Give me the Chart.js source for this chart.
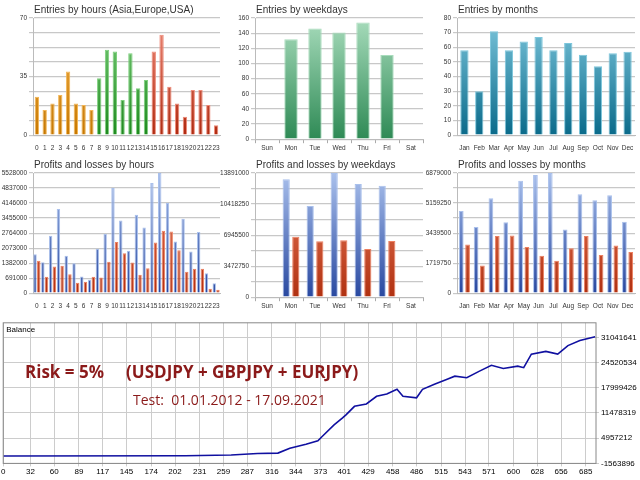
<!DOCTYPE html>
<html><head><meta charset="utf-8">
<script src="https://cdn.jsdelivr.net/npm/chart.js@4/dist/chart.umd.min.js"></script>
<style>
body{margin:0;background:#fff;width:640px;height:480px;position:relative;overflow:hidden;font-family:"Liberation Sans",Arial,sans-serif}
canvas{position:absolute}
.t{position:absolute;color:#8b1a1a;white-space:nowrap}
</style></head><body>
<canvas id="c1" style="left:0;top:0" width="225" height="155"></canvas>
<canvas id="c2" style="left:222px;top:0" width="205" height="155"></canvas>
<canvas id="c3" style="left:425px;top:0" width="215" height="155"></canvas>
<canvas id="c4" style="left:0;top:155px" width="225" height="160"></canvas>
<canvas id="c5" style="left:210px;top:155px" width="217" height="160"></canvas>
<canvas id="c6" style="left:420px;top:155px" width="220" height="160"></canvas>
<canvas id="c7" style="left:0;top:316px" width="640" height="164"></canvas>
<div class="t" style="left:25px;top:360px;font:bold 17px 'Open Sans',sans-serif;">Risk = 5%&nbsp;&nbsp;&nbsp;&nbsp;&nbsp;(USDJPY + GBPJPY + EURJPY)</div>
<div class="t" style="left:133px;top:390px;font:14px 'Open Sans',sans-serif;">Test:&nbsp; 01.01.2012 - 17.09.2021</div>
<script>
const hours=['0','1','2','3','4','5','6','7','8','9','10','11','12','13','14','15','16','17','18','19','20','21','22','23'];
const weekdays=['Sun','Mon','Tue','Wed','Thu','Fri','Sat'];
const months=['Jan','Feb','Mar','Apr','May','Jun','Jul','Aug','Sep','Oct','Nov','Dec'];
const entriesHours=[23,15,19,24,38,19,18,15,34,51,50,21,49,28,33,50,60,29,19,11,27,27,18,6];
const entriesWeekdays=[0,132,146,141,154,111,0];
const entriesMonths=[58,30,71,58,64,67,58,63,55,47,56,57];
const profitHours=[1797000,1428000,2641000,3870000,1720000,1382000,768000,614000,2042000,2718000,4837000,3347000,1950000,3608000,3025000,5067000,5528000,4146000,2380000,3424000,1919000,2810000,921000,460000];
const lossHours=[1490000,752000,1228000,1259000,875000,476000,522000,752000,722000,1443000,2349000,1843000,1413000,845000,1152000,2334000,2871000,2841000,1981000,983000,1121000,1121000,200000,154000];
const profitWeekdays=[0,13200000,10200000,13891000,12660000,12460000,0];
const lossWeekdays=[0,6750000,6250000,6370000,5400000,6290000,0];
const profitMonths=[4710000,3790000,5440000,4060000,6440000,6760000,6879000,3650000,5670000,5320000,5610000,4090000];
const lossMonths=[2790000,1590000,3270000,3300000,2650000,2150000,1860000,2570000,3270000,2190000,2730000,2360000];
const balanceX=[0,214,268,299,323,337,356,370,375,389,399,403,413,427,439,451,463,470,486,493,507,522,531,545,560,574,588,605,612,621,638,652,664,678,696];
const balanceY=[350000,400000,600000,1000000,1100000,2350000,3400000,4300000,5400000,8400000,10200000,11000000,13200000,13800000,15800000,16400000,17600000,15800000,15400000,17600000,18900000,20200000,21000000,20600000,22300000,23800000,23000000,23600000,23200000,26700000,27400000,26700000,28900000,30200000,31200000];
const balanceTicksY=[-1563896,4957212,11478319,17999426,24520534,31041641];
const balanceTicksX=[0,32,60,89,117,145,174,202,231,259,287,316,344,373,401,429,458,486,515,543,571,600,628,656,685];

const PAL={orange:['#f4b654','#c77800'],green:['#7ccf7c','#1e8a1e'],red:['#ef8a78','#b02a10'],
 wgreen:['#a8dcbc','#2e8a55'],teal:['#7cc6dc','#0a6a8a'],blue:['#a9c0ec','#2848a0'],rd:['#ee8060','#b03010']};
function grad(c){return (ctx)=>{const ch=ctx.chart,a=ch.chartArea;if(!a)return c[1];
 const g=ch.ctx.createLinearGradient(0,a.top,0,a.bottom);g.addColorStop(0,c[0]);g.addColorStop(1,c[1]);return g;}}
const tickFont={size:6.5,family:'Liberation Sans'};
const titlePlugin={id:'tp',afterDraw(ch,args,opts){const c=ch.ctx;c.save();c.font='10px Liberation Sans';c.fillStyle='#333';
 c.textBaseline='alphabetic';c.fillText(opts.text,ch.chartArea.left+1,opts.y);c.restore();}};
function base(title,leftW,rightW,top,bottom){return{
 responsive:false,animation:false,
 layout:{padding:{top:top,right:rightW,left:0,bottom:bottom}},
 plugins:{legend:{display:false},tooltip:{enabled:false},tp:{text:title,y:top-5}},
 scales:{x:{grid:{display:false},border:{color:'#bbb'},ticks:{color:'#333',font:tickFont,padding:1,maxRotation:0,autoSkip:false}},
  y:{beginAtZero:true,border:{color:'#bbb'},grid:{color:'#c8c8c8',lineWidth:1.2,tickLength:4},
   ticks:{color:'#333',font:tickFont,padding:2},afterFit:s=>{s.width=leftW;}}}};}
function colorFn(colors){return Array.isArray(colors[0])?((ctx)=>grad(colors[ctx.dataIndex])(ctx)):grad(colors);}
function borderFn(colors){return Array.isArray(colors[0])?((ctx)=>colors[ctx.dataIndex][0]):colors[0];}
function entries(id,title,labels,data,colors,max,step,labelEvery,leftW,rightW){
 const o=base(title,leftW,rightW,18,2);o.scales.y.max=max;o.scales.y.ticks.stepSize=step;
 o.scales.y.ticks.callback=(v,i)=>i%labelEvery===0?v:'';
 if(labels===weekdays){o.scales.x.grid={display:true,offset:true,drawOnChartArea:false,tickLength:4,color:'#aaa'};}
 new Chart(document.getElementById(id),{type:'bar',data:{labels,datasets:[{data,
  backgroundColor:colorFn(colors),borderColor:borderFn(colors),borderWidth:1,categoryPercentage:0.9,barPercentage:0.62}]},options:o,plugins:[titlePlugin]});}
entries('c1','Entries by hours (Asia,Europe,USA)',hours,entriesHours,hours.map((h,i)=>i<8?PAL.orange:i<15?PAL.green:PAL.red),70,8.75,4,33,5);
entries('c2','Entries by weekdays',weekdays,entriesWeekdays,PAL.wgreen,160,20,1,33,4);
entries('c3','Entries by months',months,entriesMonths,PAL.teal,80,10,1,32,5);
function pl(id,title,labels,p,l,max,step,labelEvery,leftW,rightW,cat,bar){
 const o=base(title,leftW,rightW,18,4);o.scales.y.max=max;o.scales.y.ticks.stepSize=step;
 o.scales.y.ticks.callback=(v,i)=>i%labelEvery===0?String(Math.round(v)):'';
 if(labels===weekdays){o.scales.x.grid={display:true,offset:true,drawOnChartArea:false,tickLength:4,color:'#aaa'};}
 const ds=(d,c)=>({data:d,backgroundColor:grad(c),borderColor:c[0],borderWidth:1,categoryPercentage:cat,barPercentage:bar});
 new Chart(document.getElementById(id),{type:'bar',data:{labels,datasets:[ds(p,PAL.blue),ds(l,PAL.rd)]},options:o,plugins:[titlePlugin]});}
pl('c4','Profits and losses by hours',hours,profitHours,lossHours,5528000,691000,1,33,5,0.95,0.92);
pl('c5','Profits and losses by weekdays',weekdays,profitWeekdays,lossWeekdays,13891000,1736375,2,45,4,0.8,0.75);
pl('c6','Profits and losses by months',months,profitMonths,lossMonths,6879000,859875,2,37,5,0.85,0.75);

const balLabel={id:'bl',afterDraw(ch){const c=ch.ctx,a=ch.chartArea;c.save();c.font='8px Liberation Sans';c.fillStyle='#000';c.fillText('Balance',a.left+3,a.top+9);
 c.strokeStyle='#888';c.lineWidth=1;c.strokeRect(a.left,a.top,a.right-a.left,a.bottom-a.top);c.restore();}};
new Chart(document.getElementById('c7'),{type:'line',
 data:{datasets:[{data:balanceX.map((x,i)=>({x,y:balanceY[i]})),borderColor:'#1010a0',borderWidth:1.6,pointRadius:0,tension:0}]},
 options:{responsive:false,animation:false,layout:{padding:{left:2,top:2,right:0,bottom:2}},
  plugins:{legend:{display:false},tooltip:{enabled:false}},
  scales:{x:{type:'linear',min:0,max:697,afterBuildTicks:s=>{s.ticks=balanceTicksX.map(v=>({value:v}));},
    grid:{color:'#ccc',borderDash:[2,2],tickLength:3},border:{display:false},ticks:{color:'#000',font:{size:8,family:'Liberation Sans'},maxRotation:0,autoSkip:false,padding:1,callback:v=>String(v)}},
   y:{position:'right',min:-1563896,max:34800000,afterBuildTicks:s=>{s.ticks=balanceTicksY.map(v=>({value:v}));},
    grid:{color:'#ccc',borderDash:[2,2],tickLength:3},border:{display:false},ticks:{color:'#000',font:{size:8,family:'Liberation Sans'},padding:2,callback:v=>String(v)},afterFit:s=>{s.width=44;}}}},
 plugins:[balLabel]});
</script></body></html>
